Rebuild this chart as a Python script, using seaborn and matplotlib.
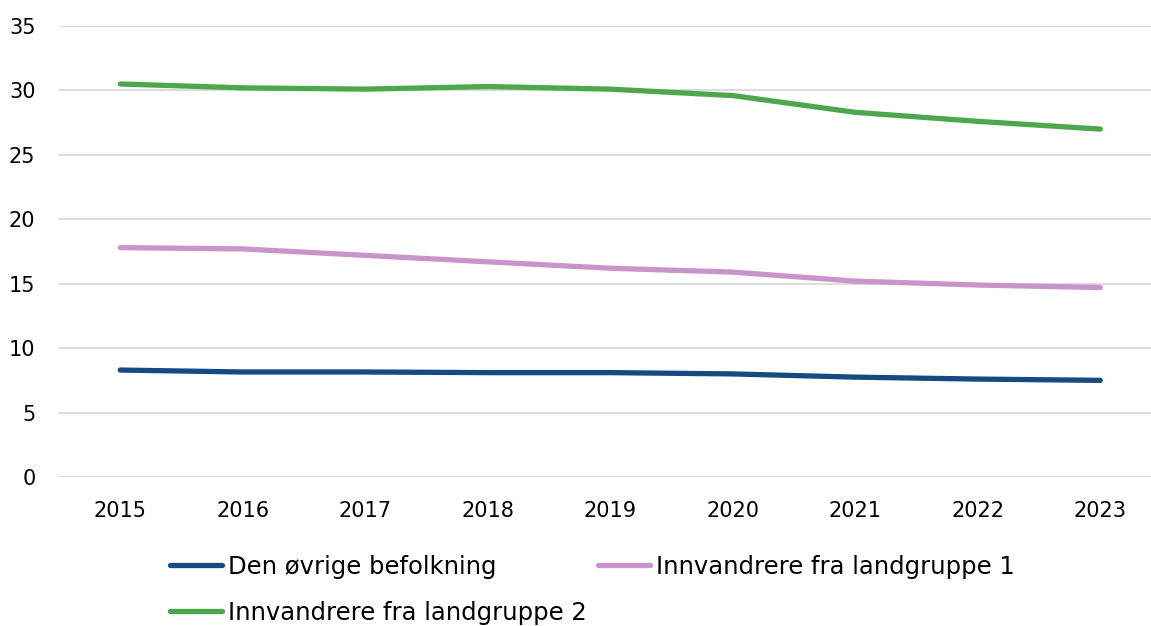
import pandas as pd
import matplotlib.pyplot as plt
import seaborn as sns

years = [2015, 2016, 2017, 2018, 2019, 2020, 2021, 2022, 2023]
den_ovrige = [8.3, 8.15, 8.15, 8.1, 8.1, 8.0, 7.75, 7.6, 7.5]
landgruppe_1 = [17.8, 17.7, 17.2, 16.7, 16.2, 15.9, 15.2, 14.9, 14.7]
landgruppe_2 = [30.5, 30.2, 30.1, 30.3, 30.1, 29.6, 28.3, 27.6, 27.0]

series_names = ["Den øvrige befolkning", "Innvandrere fra landgruppe 1",
                "Innvandrere fra landgruppe 2"]
colors = ["#184A82", "#C894CA", "#4EA64F"]

df = pd.DataFrame({
    "year": years * 3,
    "value": den_ovrige + landgruppe_1 + landgruppe_2,
    "series": [series_names[0]] * 9 + [series_names[1]] * 9 + [series_names[2]] * 9,
})

sns.set_style("white")
plt.rcParams['font.family'] = ['DejaVu Sans']

fig = plt.figure(figsize=(11.51, 6.26), dpi=100)
ax = fig.add_axes([59 / 1151, 1 - 477 / 626, 1 - 59 / 1151, (477 - 26) / 626])

sns.lineplot(data=df, x="year", y="value", hue="series", palette=colors,
             linewidth=3.8, ax=ax, legend=False)

ax.set_ylim(0, 35)
ax.set_xlim(2014.5, 2014.5 + (1151 - 59) / 122.5)
ax.set_yticks(range(0, 36, 5))
ax.set_xticks(years)
ax.grid(axis="y", color="#D9D9D9", linewidth=1.3)
ax.set_axisbelow(True)
for s in ax.spines.values():
    s.set_visible(False)
ax.tick_params(axis="both", length=0, labelsize=15, colors="black")
ax.tick_params(axis="y", pad=17)
ax.tick_params(axis="x", pad=17)
ax.set_xlabel("")
ax.set_ylabel("")

# Excel-style legend (row-major), so reorder for matplotlib's column fill
lines = ax.get_lines()[:3]
order = [0, 2, 1]
leg = fig.legend([lines[i] for i in order], [series_names[i] for i in order],
                 loc="upper left", bbox_to_anchor=(170 / 1151, 1 - 555 / 626),
                 ncol=2, frameon=False, fontsize=17.5, handlelength=2.15,
                 handletextpad=0.25, columnspacing=0.45, labelspacing=0.9,
                 borderaxespad=0, borderpad=0)
for t in leg.get_texts():
    t.set_color("black")

fig.savefig("out.png", dpi=100)
